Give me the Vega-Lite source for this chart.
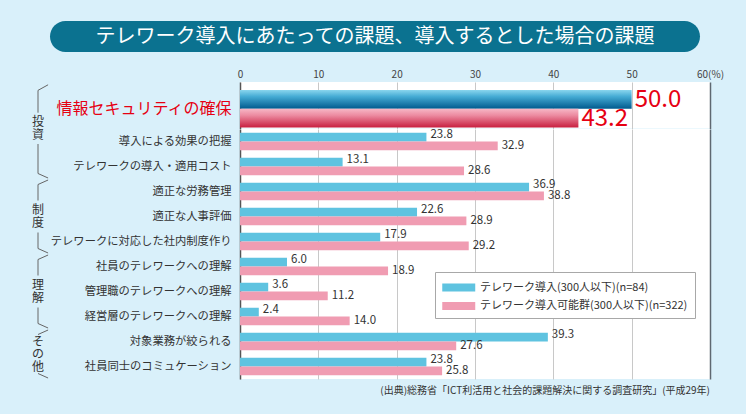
{
  "$schema": "https://vega.github.io/schema/vega-lite/v6.json",
  "padding": {"left": 20, "top": 21, "right": 22, "bottom": 18},
  "background": "#d9f0fa",
  "config": {"font": "Noto Sans CJK JP", "view": {"stroke": null}},
  "datasets": {
    "main": [
      {"cat": "情報セキュリティの確保", "series": "テレワーク導入(300人以下)(n=84)", "value": 50.0},
      {"cat": "情報セキュリティの確保", "series": "テレワーク導入可能群(300人以下)(n=322)", "value": 43.2},
      {"cat": "導入による効果の把握", "series": "テレワーク導入(300人以下)(n=84)", "value": 23.8},
      {"cat": "導入による効果の把握", "series": "テレワーク導入可能群(300人以下)(n=322)", "value": 32.9},
      {"cat": "テレワークの導入・適用コスト", "series": "テレワーク導入(300人以下)(n=84)", "value": 13.1},
      {"cat": "テレワークの導入・適用コスト", "series": "テレワーク導入可能群(300人以下)(n=322)", "value": 28.6},
      {"cat": "適正な労務管理", "series": "テレワーク導入(300人以下)(n=84)", "value": 36.9},
      {"cat": "適正な労務管理", "series": "テレワーク導入可能群(300人以下)(n=322)", "value": 38.8},
      {"cat": "適正な人事評価", "series": "テレワーク導入(300人以下)(n=84)", "value": 22.6},
      {"cat": "適正な人事評価", "series": "テレワーク導入可能群(300人以下)(n=322)", "value": 28.9},
      {"cat": "テレワークに対応した社内制度作り", "series": "テレワーク導入(300人以下)(n=84)", "value": 17.9},
      {"cat": "テレワークに対応した社内制度作り", "series": "テレワーク導入可能群(300人以下)(n=322)", "value": 29.2},
      {"cat": "社員のテレワークへの理解", "series": "テレワーク導入(300人以下)(n=84)", "value": 6.0},
      {"cat": "社員のテレワークへの理解", "series": "テレワーク導入可能群(300人以下)(n=322)", "value": 18.9},
      {"cat": "管理職のテレワークへの理解", "series": "テレワーク導入(300人以下)(n=84)", "value": 3.6},
      {"cat": "管理職のテレワークへの理解", "series": "テレワーク導入可能群(300人以下)(n=322)", "value": 11.2},
      {"cat": "経営層のテレワークへの理解", "series": "テレワーク導入(300人以下)(n=84)", "value": 2.4},
      {"cat": "経営層のテレワークへの理解", "series": "テレワーク導入可能群(300人以下)(n=322)", "value": 14.0},
      {"cat": "対象業務が絞られる", "series": "テレワーク導入(300人以下)(n=84)", "value": 39.3},
      {"cat": "対象業務が絞られる", "series": "テレワーク導入可能群(300人以下)(n=322)", "value": 27.6},
      {"cat": "社員同士のコミュケーション", "series": "テレワーク導入(300人以下)(n=84)", "value": 23.8},
      {"cat": "社員同士のコミュケーション", "series": "テレワーク導入可能群(300人以下)(n=322)", "value": 25.8}
    ],
    "segs": [
      {"kind": "diagTop", "from": "適正な労務管理", "to": "適正な労務管理"},
      {"kind": "diagTop", "from": "社員のテレワークへの理解", "to": "社員のテレワークへの理解"},
      {"kind": "diagTop", "from": "対象業務が絞られる", "to": "対象業務が絞られる"},
      {"kind": "vertTop", "from": "適正な労務管理", "to": "適正な労務管理"},
      {"kind": "vertTop", "from": "社員のテレワークへの理解", "to": "社員のテレワークへの理解"},
      {"kind": "vertBot", "from": "テレワークに対応した社内制度作り", "to": "テレワークに対応した社内制度作り"},
      {"kind": "vertBot", "from": "経営層のテレワークへの理解", "to": "経営層のテレワークへの理解"},
      {"kind": "vertInv", "from": "導入による効果の把握", "to": "テレワークの導入・適用コスト"},
      {"kind": "diagBot", "from": "テレワークの導入・適用コスト", "to": "テレワークの導入・適用コスト"},
      {"kind": "diagBot", "from": "テレワークに対応した社内制度作り", "to": "テレワークに対応した社内制度作り"},
      {"kind": "diagBot", "from": "経営層のテレワークへの理解", "to": "経営層のテレワークへの理解"},
      {"kind": "diagBot", "from": "社員同士のコミュケーション", "to": "社員同士のコミュケーション"},
      {"kind": "topDiag", "from": "情報セキュリティの確保", "to": "情報セキュリティの確保"},
      {"kind": "topVert", "from": "情報セキュリティの確保", "to": "情報セキュリティの確保"}
    ],
    "glabels": [
      {"pos": "top", "row": "情報セキュリティの確保", "text": "投\n資"},
      {"pos": "mid", "row": "適正な人事評価", "text": "制\n度"},
      {"pos": "mid", "row": "管理職のテレワークへの理解", "text": "理\n解"},
      {"pos": "end", "row": "対象業務が絞られる", "text": "そ\nの\n他"}
    ]
  },
  "spacing": 17,
  "vconcat": [
    {
      "hconcat": [
        {"width": 30, "height": 31, "data": {"values": []}, "mark": {"type": "text"}, "encoding": {}},
        {
          "width": 650, "height": 31,
          "view": {"fill": "#0b7290", "stroke": null, "cornerRadius": 15.5},
          "data": {"values": [{"t": "テレワーク導入にあたっての課題、導入するとした場合の課題"}]},
          "mark": {"type": "text", "fontSize": 20, "color": "#ffffff", "baseline": "middle", "align": "center"},
          "encoding": {"text": {"field": "t"}}
        }
      ],
      "spacing": 0,
      "bounds": "flush"
    },
    {
      "hconcat": [
        {
          "vconcat": [
            {
              "width": 36, "height": 46.5,
              "layer": [
                {
                  "data": {"name": "segs"},
                  "transform": [{"filter": "datum.kind === 'topDiag'"}],
                  "mark": {"type": "rule", "color": "#666666", "strokeWidth": 1},
                  "encoding": {
                    "x": {"datum": 0.78, "type": "quantitative", "scale": {"domain": [0, 1]}, "axis": null},
                    "x2": {"datum": 0.5},
                    "y": {"field": "from", "type": "nominal", "bandPosition": 0.06, "scale": {"domain": ["情報セキュリティの確保"], "paddingInner": 0, "paddingOuter": 0}, "axis": null},
                    "y2": {"field": "to", "bandPosition": 0.18}
                  }
                },
                {
                  "data": {"name": "segs"},
                  "transform": [{"filter": "datum.kind === 'topVert'"}],
                  "mark": {"type": "rule", "color": "#666666", "strokeWidth": 1},
                  "encoding": {
                    "x": {"datum": 0.5, "type": "quantitative", "scale": {"domain": [0, 1]}, "axis": null},
                    "y": {"field": "from", "type": "nominal", "bandPosition": 0.18, "scale": {"domain": ["情報セキュリティの確保"], "paddingInner": 0, "paddingOuter": 0}, "axis": null},
                    "y2": {"field": "to", "bandPosition": 0.66}
                  }
                },
                {
                  "data": {"name": "glabels"},
                  "transform": [{"filter": "datum.pos === 'top'"}],
                  "mark": {"type": "text", "fontSize": 12, "lineHeight": 12.5, "lineBreak": "\n", "color": "#333333", "baseline": "middle", "align": "center", "dy": -6.25},
                  "encoding": {
                    "text": {"field": "text"},
                    "y": {"field": "row", "type": "nominal", "bandPosition": 1, "scale": {"domain": ["情報セキュリティの確保"], "paddingInner": 0, "paddingOuter": 0}, "axis": null}
                  }
                }
              ]
            },
            {
              "width": 36, "height": 250,
              "layer": [
                {
                  "data": {"name": "segs"},
                  "transform": [{"filter": "datum.kind === 'diagTop'"}],
                  "mark": {"type": "rule", "color": "#666666", "strokeWidth": 1},
                  "encoding": {
                    "x": {"datum": 0.78, "type": "quantitative", "scale": {"domain": [0, 1]}, "axis": null},
                    "x2": {"datum": 0.5},
                    "y": {"field": "from", "type": "nominal", "bandPosition": 0.04, "scale": {"domain": ["導入による効果の把握", "テレワークの導入・適用コスト", "適正な労務管理", "適正な人事評価", "テレワークに対応した社内制度作り", "社員のテレワークへの理解", "管理職のテレワークへの理解", "経営層のテレワークへの理解", "対象業務が絞られる", "社員同士のコミュケーション"], "paddingInner": 0, "paddingOuter": 0}, "axis": null},
                    "y2": {"field": "to", "bandPosition": 0.22}
                  }
                },
                {
                  "data": {"name": "segs"},
                  "transform": [{"filter": "datum.kind === 'vertTop'"}],
                  "mark": {"type": "rule", "color": "#666666", "strokeWidth": 1},
                  "encoding": {
                    "x": {"datum": 0.5, "type": "quantitative", "scale": {"domain": [0, 1]}, "axis": null},
                    "y": {"field": "from", "type": "nominal", "bandPosition": 0.22, "axis": null},
                    "y2": {"field": "to", "bandPosition": 0.86}
                  }
                },
                {
                  "data": {"name": "segs"},
                  "transform": [{"filter": "datum.kind === 'vertBot'"}],
                  "mark": {"type": "rule", "color": "#666666", "strokeWidth": 1},
                  "encoding": {
                    "x": {"datum": 0.5, "type": "quantitative", "scale": {"domain": [0, 1]}, "axis": null},
                    "y": {"field": "from", "type": "nominal", "bandPosition": 0.14, "axis": null},
                    "y2": {"field": "to", "bandPosition": 0.78}
                  }
                },
                {
                  "data": {"name": "segs"},
                  "transform": [{"filter": "datum.kind === 'vertInv'"}],
                  "mark": {"type": "rule", "color": "#666666", "strokeWidth": 1},
                  "encoding": {
                    "x": {"datum": 0.5, "type": "quantitative", "scale": {"domain": [0, 1]}, "axis": null},
                    "y": {"field": "from", "type": "nominal", "bandPosition": 0.6, "axis": null},
                    "y2": {"field": "to", "bandPosition": 0.78}
                  }
                },
                {
                  "data": {"name": "segs"},
                  "transform": [{"filter": "datum.kind === 'diagBot'"}],
                  "mark": {"type": "rule", "color": "#666666", "strokeWidth": 1},
                  "encoding": {
                    "x": {"datum": 0.5, "type": "quantitative", "scale": {"domain": [0, 1]}, "axis": null},
                    "x2": {"datum": 0.78},
                    "y": {"field": "from", "type": "nominal", "bandPosition": 0.78, "axis": null},
                    "y2": {"field": "to", "bandPosition": 0.96}
                  }
                },
                {
                  "data": {"name": "glabels"},
                  "transform": [{"filter": "datum.pos === 'mid'"}],
                  "mark": {"type": "text", "fontSize": 12, "lineHeight": 12.5, "lineBreak": "\n", "color": "#333333", "baseline": "middle", "align": "center", "dy": -6.25},
                  "encoding": {
                    "text": {"field": "text"},
                    "y": {"field": "row", "type": "nominal", "bandPosition": 0.5, "axis": null}
                  }
                },
                {
                  "data": {"name": "glabels"},
                  "transform": [{"filter": "datum.pos === 'end'"}],
                  "mark": {"type": "text", "fontSize": 12, "lineHeight": 12.5, "lineBreak": "\n", "color": "#333333", "baseline": "middle", "align": "center", "dy": -12.5},
                  "encoding": {
                    "text": {"field": "text"},
                    "y": {"field": "row", "type": "nominal", "bandPosition": 1, "axis": null}
                  }
                }
              ]
            }
          ],
          "spacing": 0,
          "bounds": "flush"
        },
        {
          "vconcat": [
            {
              "width": 470, "height": 46.5,
              "view": {"fill": "#ffffff", "stroke": null},
              "data": {"name": "main"},
              "transform": [{"filter": "datum.cat === '情報セキュリティの確保'"}],
              "encoding": {
                "y": {"field": "cat", "type": "nominal", "scale": {"domain": ["情報セキュリティの確保"], "paddingInner": 0, "paddingOuter": 0.12, "align": 0.89},
                  "axis": {"title": null, "ticks": false, "domainColor": "#555555", "domainWidth": 1.5, "labelFontSize": 16, "labelColor": "#e60012", "labelPadding": 9, "labelLimit": 300}},
                "yOffset": {"field": "series", "scale": {"domain": ["テレワーク導入(300人以下)(n=84)", "テレワーク導入可能群(300人以下)(n=322)"], "paddingInner": 0, "range": [0, 37.5]}},
                "x": {"field": "value", "type": "quantitative", "stack": null, "scale": {"domain": [0, 60], "nice": false},
                  "axis": {"orient": "top", "values": [0, 10, 20, 30, 40, 50, 60], "title": null, "ticks": false, "domain": false, "labelFlush": false, "labelFontSize": 10, "labelColor": "#444444", "labelPadding": 3,
                    "labelExpr": "datum.value === 60 ? '\u00a0\u00a0\u00a060(%)' : datum.label",
                    "grid": true,
                    "gridColor": {"condition": {"test": "datum.value === 60", "value": "#5f6870"}, "value": "#c8c8c8"},
                    "gridWidth": {"condition": {"test": "datum.value === 60", "value": 1.5}, "value": 1}}}
              },
              "layer": [
                {
                  "transform": [{"filter": "datum.series === 'テレワーク導入(300人以下)(n=84)'"}],
                  "mark": {"type": "bar", "fill": {"gradient": "linear", "x1": 0, "y1": 0, "x2": 0, "y2": 1, "stops": [{"offset": 0, "color": "#8ad6ee"}, {"offset": 0.35, "color": "#45abd4"}, {"offset": 1, "color": "#005a8e"}]}}
                },
                {
                  "transform": [{"filter": "datum.series === 'テレワーク導入可能群(300人以下)(n=322)'"}],
                  "mark": {"type": "bar", "fill": {"gradient": "linear", "x1": 0, "y1": 0, "x2": 0, "y2": 1, "stops": [{"offset": 0, "color": "#f6b7c6"}, {"offset": 0.35, "color": "#ec8ba1"}, {"offset": 1, "color": "#c81f40"}]}}
                },
                {
                  "mark": {"type": "text", "align": "left", "baseline": "middle", "dx": 3, "dy": 1, "fontSize": 24, "color": "#e60012"},
                  "encoding": {"text": {"field": "value", "type": "quantitative", "format": ".1f"}}
                }
              ]
            },
            {
              "width": 470, "height": 250,
              "view": {"fill": "#ffffff", "stroke": null},
              "data": {"name": "main"},
              "transform": [{"filter": "datum.cat !== '情報セキュリティの確保'"}],
              "title": {"text": "(出典)総務省「ICT利活用と社会的課題解決に関する調査研究」(平成29年)", "orient": "bottom", "anchor": "end", "frame": "group", "fontSize": 10, "fontWeight": "normal", "color": "#333333", "offset": 7},
              "encoding": {
                "y": {"field": "cat", "type": "nominal",
                  "scale": {"domain": ["導入による効果の把握", "テレワークの導入・適用コスト", "適正な労務管理", "適正な人事評価", "テレワークに対応した社内制度作り", "社員のテレワークへの理解", "管理職のテレワークへの理解", "経営層のテレワークへの理解", "対象業務が絞られる", "社員同士のコミュケーション"], "paddingInner": 0.3, "paddingOuter": 0.15},
                  "axis": {"title": null, "ticks": false, "domainColor": "#555555", "domainWidth": 1.5, "labelFontSize": 11.3, "labelColor": "#333333", "labelPadding": 9, "labelLimit": 300}},
                "yOffset": {"field": "series", "scale": {"domain": ["テレワーク導入(300人以下)(n=84)", "テレワーク導入可能群(300人以下)(n=322)"], "paddingInner": 0, "range": [0, 17.5]}},
                "x": {"field": "value", "type": "quantitative", "stack": null, "scale": {"domain": [0, 60], "nice": false},
                  "axis": {"orient": "top", "values": [0, 10, 20, 30, 40, 50, 60], "title": null, "ticks": false, "domain": false, "labels": false,
                    "grid": true,
                    "gridColor": {"condition": {"test": "datum.value === 60", "value": "#5f6870"}, "value": "#c8c8c8"},
                    "gridWidth": {"condition": {"test": "datum.value === 60", "value": 1.5}, "value": 1}}}
              },
              "layer": [
                {
                  "mark": {"type": "bar"},
                  "encoding": {
                    "color": {"field": "series", "type": "nominal",
                      "scale": {"domain": ["テレワーク導入(300人以下)(n=84)", "テレワーク導入可能群(300人以下)(n=322)"], "range": ["#5fc3e0", "#f09cb2"]},
                      "legend": {"orient": "none", "legendX": 415, "legendY": 251, "title": null, "direction": "vertical", "fillColor": "#ffffff", "strokeColor": "#a8a8a8", "padding": 7, "symbolType": "M-1,-0.5H3V0.5H-1Z", "symbolSize": 272, "symbolStrokeWidth": 0, "labelFontSize": 11, "labelColor": "#333333", "labelOffset": 21, "rowPadding": 4.5, "labelLimit": 400}}
                  }
                },
                {
                  "transform": [{"filter": "datum.series === 'テレワーク導入(300人以下)(n=84)'"}],
                  "mark": {"type": "text", "align": "left", "baseline": "middle", "dx": 4, "dy": -2, "fontSize": 11.5, "color": "#333333"},
                  "encoding": {"text": {"field": "value", "type": "quantitative", "format": ".1f"}}
                },
                {
                  "transform": [{"filter": "datum.series === 'テレワーク導入可能群(300人以下)(n=322)'"}],
                  "mark": {"type": "text", "align": "left", "baseline": "middle", "dx": 4, "dy": 0.5, "fontSize": 11.5, "color": "#333333"},
                  "encoding": {"text": {"field": "value", "type": "quantitative", "format": ".1f"}}
                }
              ]
            }
          ],
          "spacing": 0,
          "bounds": "flush",
          "resolve": {"scale": {"yOffset": "independent", "y": "independent", "x": "independent"}}
        }
      ],
      "spacing": 220,
      "bounds": "flush",
      "resolve": {"scale": {"yOffset": "independent"}}
    }
  ],
  "resolve": {"scale": {"yOffset": "independent"}}
}
